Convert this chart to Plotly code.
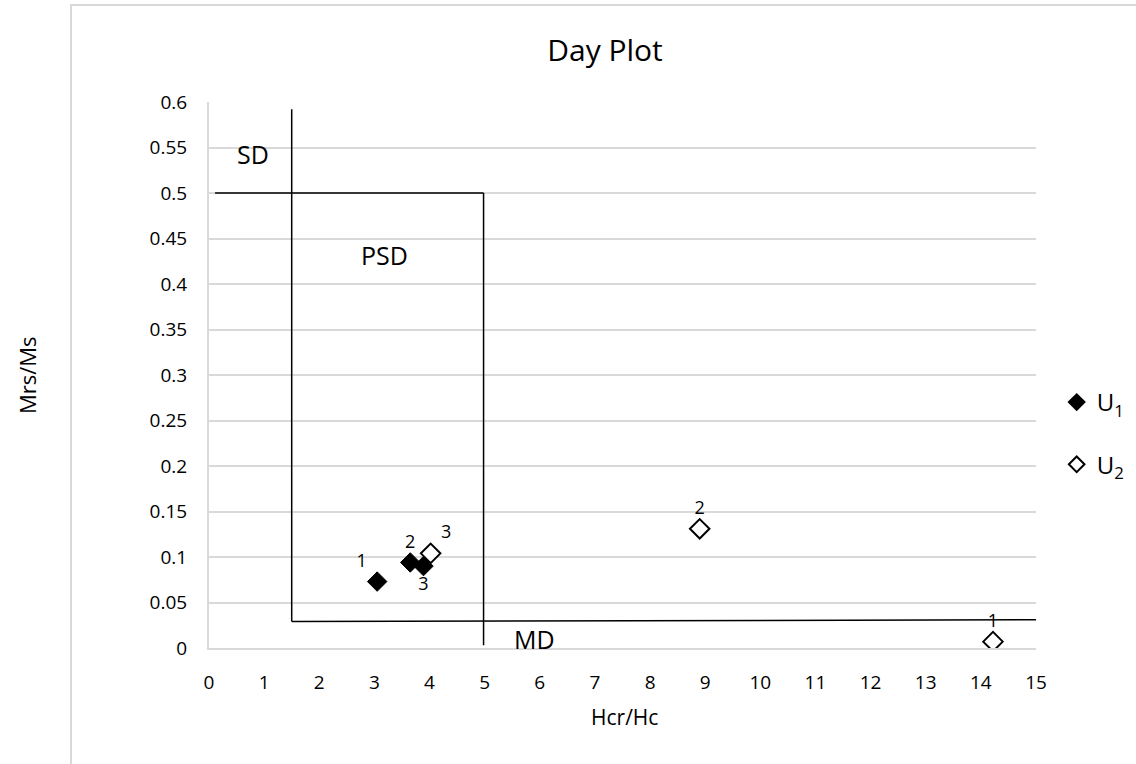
import plotly.graph_objects as go

# ---- data ----
u1_x = [3.05, 3.65, 3.89]
u1_y = [0.073, 0.094, 0.090]
u1_labels = ["1", "2", "3"]

u2_x = [14.22, 8.9, 4.02]
u2_y = [0.007, 0.131, 0.104]
u2_labels = ["1", "2", "3"]

# domain boundary lines (Hcr/Hc, Mrs/Ms)
sd_psd_vert_x = [1.5, 1.5]
sd_psd_vert_y = [0.592, 0.029]
sd_psd_horz_x = [0.11, 4.98]
sd_psd_horz_y = [0.5, 0.5]
psd_md_vert_x = [4.98, 4.98]
psd_md_vert_y = [0.5, 0.003]
md_horz_x = [1.5, 15.0]
md_horz_y = [0.029, 0.031]

region_names = ["SD", "PSD", "MD"]
region_x = [0.8, 3.19, 5.91]
region_y = [0.543, 0.432, 0.010]

x_ticks = list(range(0, 16))
y_ticks = [0, 0.05, 0.1, 0.15, 0.2, 0.25, 0.3, 0.35, 0.4, 0.45, 0.5, 0.55, 0.6]
y_tick_text = ["0", "0.05", "0.1", "0.15", "0.2", "0.25", "0.3", "0.35", "0.4", "0.45", "0.5", "0.55", "0.6"]

FONT = "Open Sans"
GRID = "#d9d9d9"

fig = go.Figure()

line_style = dict(color="black", width=1.5)
for lx, ly in [(sd_psd_vert_x, sd_psd_vert_y), (sd_psd_horz_x, sd_psd_horz_y),
               (psd_md_vert_x, psd_md_vert_y), (md_horz_x, md_horz_y)]:
    fig.add_trace(go.Scatter(x=lx, y=ly, mode="lines", line=line_style,
                             showlegend=False, hoverinfo="skip"))

fig.add_trace(go.Scatter(
    x=u2_x, y=u2_y, mode="markers+text", name="U<sub>2</sub>",
    text=u2_labels, textposition=["top center", "top center", "top right"],
    textfont=dict(family=FONT, size=18, color="black"),
    marker=dict(symbol="diamond", size=15, color="white",
                line=dict(color="black", width=2)),
    legendgroup="u2", legendrank=2))

fig.add_trace(go.Scatter(
    x=u1_x, y=u1_y, mode="markers+text", name="U<sub>1</sub>",
    text=u1_labels, textposition=["top left", "top center", "bottom center"],
    textfont=dict(family=FONT, size=18, color="black"),
    marker=dict(symbol="diamond", size=15, color="black",
                line=dict(color="black", width=1)),
    legendgroup="u1", legendrank=1))

for name, rx, ry in zip(region_names, region_x, region_y):
    fig.add_annotation(x=rx, y=ry, text=name, showarrow=False,
                       font=dict(family=FONT, size=25, color="black"),
                       xanchor="center", yanchor="middle")

# y axis title placed outside the chart border like the reference
fig.add_annotation(xref="paper", yref="paper", x=(27 - 209) / 827, y=0.5,
                   text="Mrs/Ms", textangle=-90, showarrow=False,
                   font=dict(family=FONT, size=22, color="black"),
                   xanchor="center", yanchor="middle")
fig.add_annotation(xref="paper", yref="paper", x=(624 - 209) / 827, y=(648 - 717) / 546,
                   text="Hcr/Hc", showarrow=False,
                   font=dict(family=FONT, size=21, color="black"),
                   xanchor="center", yanchor="middle")

# chart-area border
fig.add_shape(type="rect", xref="paper", yref="paper",
              x0=(71 - 209) / 827, x1=1.3, y0=-0.4, y1=(648 - 5) / 546,
              line=dict(color=GRID, width=2), fillcolor="rgba(0,0,0,0)", layer="below")

fig.update_layout(
    width=1136, height=764,
    margin=dict(l=209, r=100, t=102, b=116, autoexpand=False),
    paper_bgcolor="white", plot_bgcolor="white",
    title=dict(text="Day Plot", x=605 / 1136, xref="container", xanchor="center",
               y=1 - 50 / 764, yref="container", yanchor="middle",
               font=dict(family=FONT, size=30, color="black")),
    font=dict(family=FONT, color="black"),
    legend=dict(x=1.025, xanchor="left", y=(648 - 380) / 546, yanchor="top",
                font=dict(family=FONT, size=24, color="black"),
                tracegroupgap=28, bgcolor="rgba(0,0,0,0)", itemsizing="constant"),
    showlegend=True,
)

fig.update_xaxes(range=[0, 15], tickvals=x_ticks, ticks="", showgrid=False,
                 showline=True, linecolor=GRID, linewidth=2, zeroline=False,
                 tickfont=dict(family=FONT, size=19, color="black"),
                 ticklabelstandoff=16)
fig.update_yaxes(range=[0, 0.6], tickvals=y_ticks, ticktext=y_tick_text, ticks="",
                 showgrid=True, gridcolor=GRID, gridwidth=2,
                 showline=True, linecolor=GRID, linewidth=2, zeroline=False,
                 tickfont=dict(family=FONT, size=19, color="black"),
                 ticklabelstandoff=16)

fig.write_html("out.html")
